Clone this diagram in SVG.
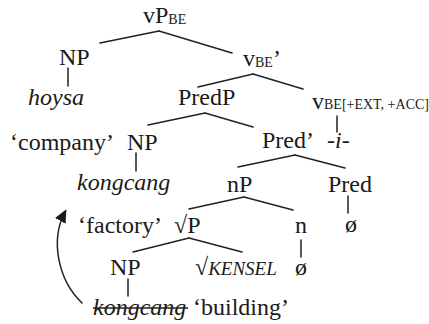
<svg xmlns="http://www.w3.org/2000/svg" width="429" height="324" viewBox="0 0 429 324" font-family="'Liberation Serif', 'DejaVu Serif', serif">
  <style>
    text { font-family: 'Liberation Serif', 'DejaVu Serif', serif; font-size: 24px; fill: #1a1a1a; }
    .it { font-style: italic; }
    .sub { font-size: 14px; }
    .sc { font-size: 19px; font-style: italic; }
    .edge { stroke: #222; stroke-width: 1.5; fill: none; stroke-linecap: round; }
  </style>
  <defs>
    <marker id="head" viewBox="0 0 13 12" refX="10" refY="6" markerWidth="13" markerHeight="12" markerUnits="userSpaceOnUse" orient="auto">
      <path d="M0,0 L13,6 L0,12 Z" fill="#1a1a1a"/>
    </marker>
  </defs>

  <!-- tree branches -->
  <g id="connectors" class="edge">
    <line x1="159" y1="31" x2="100" y2="43"/>
    <line x1="159" y1="31" x2="232" y2="53"/>
    <line x1="68" y1="68" x2="68" y2="86"/>
    <line x1="253" y1="74" x2="198" y2="87"/>
    <line x1="253" y1="74" x2="303" y2="89"/>
    <line x1="205" y1="113" x2="148" y2="125"/>
    <line x1="205" y1="113" x2="253" y2="127"/>
    <line x1="337" y1="116" x2="337" y2="132"/>
    <line x1="136" y1="153" x2="136" y2="171"/>
    <line x1="295" y1="155" x2="238" y2="167"/>
    <line x1="295" y1="155" x2="345" y2="168"/>
    <line x1="348" y1="196" x2="348" y2="213"/>
    <line x1="244" y1="197" x2="189" y2="209"/>
    <line x1="244" y1="197" x2="293" y2="210"/>
    <line x1="189" y1="238" x2="133" y2="252"/>
    <line x1="189" y1="238" x2="242" y2="252"/>
    <line x1="301" y1="240" x2="301" y2="257"/>
    <line x1="128" y1="279" x2="128" y2="296"/>
    <!-- movement arrow -->
    <path d="M82,303 C58,280 50,240 65,212" marker-end="url(#head)"/>
  </g>

  <g id="vP-be"><text x="143" y="23">vP<tspan class="sub" dy="1">BE</tspan></text></g>
  <g id="np-subject"><text x="59" y="65">NP</text></g>
  <g id="hoysa"><text class="it" x="28" y="105">hoysa</text></g>
  <g id="v-be-bar"><text x="243" y="66">v<tspan class="sub" dy="1">BE</tspan><tspan dy="-1">’</tspan></text></g>
  <g id="predP"><text x="178" y="105">PredP</text></g>
  <g id="v-be-head"><text x="312" y="109">v<tspan class="sub">BE[+EXT, +ACC]</tspan></text></g>
  <g id="i-suffix"><text class="it" x="327" y="148">-i-</text></g>
  <g id="company-gloss"><text x="10" y="150">‘company’</text></g>
  <g id="np-company"><text x="127" y="150">NP</text></g>
  <g id="pred-bar"><text x="262" y="148">Pred’</text></g>
  <g id="kongcang"><text class="it" x="77" y="190">kongcang</text></g>
  <g id="nP"><text x="227" y="192">nP</text></g>
  <g id="pred-head"><text x="328" y="192">Pred</text></g>
  <g id="pred-null"><text x="345" y="232">ø</text></g>
  <g id="factory-gloss"><text x="78" y="233">‘factory’</text></g>
  <g id="rootP"><text x="174" y="233">√P</text></g>
  <g id="n-head"><text x="295" y="233">n</text></g>
  <g id="np-lower"><text x="110" y="275">NP</text></g>
  <g id="root-kensel"><text x="195" y="275">√<tspan class="sc">KENSEL</tspan></text></g>
  <g id="n-null"><text x="295" y="275">ø</text></g>
  <g id="kongcang-copy">
    <text class="it" x="93" y="315">kongcang</text>
    <line x1="93" y1="308" x2="188" y2="308" stroke="#222" stroke-width="1.5"/>
  </g>
  <g id="building-gloss"><text x="193" y="315">‘building’</text></g>
</svg>
